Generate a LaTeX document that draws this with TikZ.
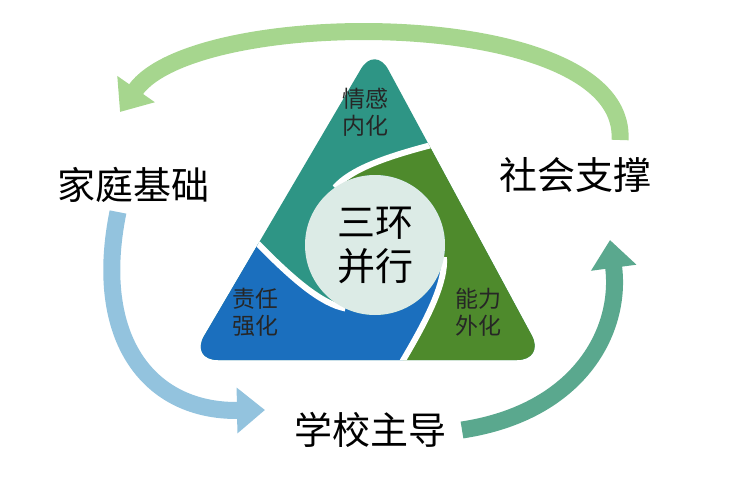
\documentclass[tikz,border=0pt]{standalone}
\usepackage{fontspec}
\newfontfamily\cjk{Noto Sans CJK SC}
\usetikzlibrary{arrows.meta}
\definecolor{tealc}{HTML}{2E9585}
\definecolor{bluec}{HTML}{1B6FBE}
\definecolor{greenc}{HTML}{4E8A2C}
\definecolor{midc}{HTML}{DCEBE6}
\definecolor{toparr}{HTML}{A6D68E}
\definecolor{leftarr}{HTML}{93C3DE}
\definecolor{rightarr}{HTML}{5AA88E}
\tikzset{
  outer/.style={font=\cjk\fontsize{38}{42}\selectfont},
  inner/.style={font=\cjk\fontsize{23}{27}\selectfont, align=center, text=black!85},
  loop arrow/.style={line width=17pt, -{Triangle[width=44pt,length=28pt]}},
}
\newcommand{\swirl}[1]{(#1:200) .. controls (#1+5:150) and (#1+55:95) .. (#1+85:70)}
\begin{document}
\begin{tikzpicture}[x=1pt,y=1pt]
\useasboundingbox (0,0) rectangle (755,-487);
% loop arrows
\draw[loop arrow, toparr] (620,-140) .. controls (628,-5) and (195,-5) .. (120,-112);
\draw[loop arrow, leftarr] (118,-212) .. controls (92,-340) and (150,-412) .. (265,-410);
\draw[loop arrow, rightarr] (462,-430) .. controls (580,-412) and (622,-330) .. (610,-240);
% triangle
\begin{scope}[shift={(375,-245)}]
\path[clip, rounded corners=28pt] (0,200) -- (170,-115) -- (-185,-115) -- cycle;
\fill[tealc] (-300,-300) rectangle (300,300);
\fill[bluec] \swirl{160} arc[start angle=245, end angle=350, radius=70]
  .. controls (265+55:95) and (265+5:150) .. (265:200) -- (200:260) -- cycle;
\fill[greenc] \swirl{265} arc[start angle=350, end angle=485, radius=70]
  .. controls (40+55:95) and (40+5:150) .. (40:200) -- (330:260) -- cycle;
\foreach \a in {160,265,40}
  \draw[white, line width=6pt] \swirl{\a};
\fill[midc] (0,0) circle[radius=70];
\end{scope}
% texts
\node[font=\cjk\fontsize{38}{44}\selectfont, align=center] (core) at (375,-245) {三环\\并行};
\node[inner] (emot) at (365,-112) {情感\\内化};
\node[inner] (duty) at (255,-312) {责任\\强化};
\node[inner] (able) at (478,-312) {能力\\外化};
\node[outer] (home) at (133,-185) {家庭基础};
\node[outer] (soc) at (575,-175) {社会支撑};
\node[outer] (sch) at (370,-430) {学校主导};
\end{tikzpicture}
\end{document}
